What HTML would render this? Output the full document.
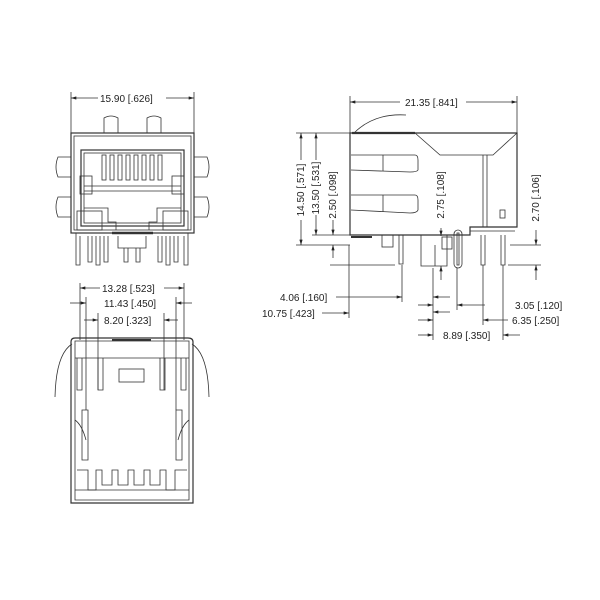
<!DOCTYPE html><html><head><style>body{margin:0;background:#fff}svg{display:block}text{font-family:"Liberation Sans",sans-serif;font-size:10px;fill:#222}</style></head><body>
<svg width="600" height="600" viewBox="0 0 600 600" xmlns="http://www.w3.org/2000/svg">
<defs><marker id="a" viewBox="0 0 10 6" refX="10" refY="3" markerWidth="8" markerHeight="4" orient="auto-start-reverse"><path d="M0,0L10,3L0,6z" fill="#222"/></marker></defs>
<g stroke="#333" stroke-width="0.8" fill="none">
<line x1="71" y1="92" x2="71" y2="133"/><line x1="194" y1="92" x2="194" y2="133"/>
<line x1="71" y1="98" x2="98" y2="98" marker-start="url(#a)"/><line x1="166" y1="98" x2="194" y2="98" marker-end="url(#a)"/>
<rect x="71" y="133" width="123" height="100" stroke-width="1.2"/>
<rect x="74" y="136" width="117" height="94"/>
<path d="M104,133V118q7,-4 14,0V133M147,133V118q7,-4 14,0V133"/>
<path d="M71,157H58q-4,10 0,20H71M71,197H58q-4,10 0,20H71M194,157H207q4,10 0,20H194M194,197H207q4,10 0,20H194"/>
<rect x="81" y="150" width="103" height="76" stroke-width="1.2"/>
<rect x="84" y="153" width="97" height="70"/>
<g><rect x="102" y="155" width="4" height="25"/><rect x="110" y="155" width="4" height="25"/><rect x="118" y="155" width="4" height="25"/><rect x="126" y="155" width="4" height="25"/><rect x="134" y="155" width="4" height="25"/><rect x="142" y="155" width="4" height="25"/><rect x="150" y="155" width="4" height="25"/><rect x="158" y="155" width="4" height="25"/></g>
<line x1="84" y1="186" x2="181" y2="186"/><line x1="84" y1="191" x2="181" y2="191"/>
<rect x="80" y="176" width="12" height="18"/><rect x="172" y="176" width="12" height="18"/>
<path d="M84,208H108V222H116V230M181,208H157V222H149V230"/>
<rect x="77" y="211" width="25" height="19"/><rect x="163" y="211" width="25" height="19"/>
<line x1="112" y1="233" x2="153" y2="233" stroke-width="2.5"/>
<path d="M76,233V265H80V236M88,236V262H92V236M96,236V265H100V236M104,236V262H108V236M118,236V248H146V236M124,248V262H128V248M136,248V262H140V248M158,236V262H162V236M166,236V265H170V236M174,236V262H178V236M184,236V265H188V233"/>
<line x1="350" y1="96" x2="350" y2="133"/><line x1="517" y1="96" x2="517" y2="133"/>
<line x1="350" y1="102" x2="400" y2="102" marker-start="url(#a)"/><line x1="466" y1="102" x2="517" y2="102" marker-end="url(#a)"/>
<path d="M354,133q20,-20 52,-18"/>
<path d="M350,133H517V227H470V235H350Z" stroke-width="1.2"/>
<line x1="352" y1="133" x2="415" y2="133" stroke-width="2.2"/>
<path d="M415,133L440,155H493L517,133"/>
<line x1="483" y1="155" x2="483" y2="227"/><line x1="487" y1="155" x2="487" y2="227"/>
<line x1="470" y1="227" x2="515" y2="227"/><line x1="470" y1="231" x2="515" y2="231"/>
<rect x="500" y="210" width="5" height="8"/>
<path d="M351,155H415Q418,155 418,160V170Q417,172 410,172L351,170M351,195H415Q418,195 418,200V210Q417,213 410,213L351,210"/>
<line x1="383" y1="155" x2="383" y2="171"/><line x1="383" y1="195" x2="383" y2="212"/>
<line x1="351" y1="237" x2="372" y2="237" stroke-width="2"/>
<rect x="382" y="235" width="11" height="12"/>
<path d="M399,235V264H403V235M421,235V266H447V235M435,245V266M481,235V265H485V235M501,235V265H505V235"/>
<rect x="454" y="230" width="8" height="38" rx="4"/><rect x="457" y="233" width="2" height="32"/>
<rect x="442" y="237" width="10" height="12"/>
<line x1="296" y1="133" x2="350" y2="133"/><line x1="296" y1="245" x2="350" y2="245"/><line x1="312" y1="235" x2="350" y2="235"/>
<line x1="301" y1="133" x2="301" y2="160" marker-start="url(#a)"/><line x1="301" y1="220" x2="301" y2="245" marker-end="url(#a)"/>
<line x1="316" y1="133" x2="316" y2="160" marker-start="url(#a)"/><line x1="316" y1="215" x2="316" y2="235" marker-end="url(#a)"/>
<line x1="333" y1="220" x2="333" y2="235" marker-end="url(#a)"/><line x1="333" y1="258" x2="333" y2="245" marker-end="url(#a)"/>
<line x1="330" y1="265" x2="395" y2="265"/>
<line x1="441" y1="228" x2="441" y2="236" marker-end="url(#a)"/><line x1="441" y1="280" x2="441" y2="266" marker-end="url(#a)"/>
<line x1="510" y1="245" x2="541" y2="245"/><line x1="508" y1="265" x2="541" y2="265"/>
<line x1="536" y1="230" x2="536" y2="245" marker-end="url(#a)"/><line x1="536" y1="280" x2="536" y2="265" marker-end="url(#a)"/>
<line x1="349" y1="245" x2="349" y2="318"/><line x1="402" y1="265" x2="402" y2="302"/>
<line x1="433" y1="268" x2="433" y2="340"/><line x1="457" y1="268" x2="457" y2="310"/>
<line x1="483" y1="265" x2="483" y2="325"/><line x1="503" y1="265" x2="503" y2="340"/>
<line x1="336" y1="297" x2="402" y2="297" marker-end="url(#a)"/>
<line x1="322" y1="313" x2="349" y2="313" marker-end="url(#a)"/>
<line x1="418" y1="305" x2="433" y2="305" marker-end="url(#a)"/><line x1="450" y1="297" x2="433" y2="297" marker-end="url(#a)"/>
<line x1="485" y1="305" x2="457" y2="305" marker-end="url(#a)"/>
<line x1="418" y1="320" x2="433" y2="320" marker-end="url(#a)"/><line x1="450" y1="312" x2="433" y2="312" marker-end="url(#a)"/>
<line x1="508" y1="320" x2="483" y2="320" marker-end="url(#a)"/>
<line x1="418" y1="335" x2="433" y2="335" marker-end="url(#a)"/><line x1="520" y1="335" x2="503" y2="335" marker-end="url(#a)"/>
<line x1="80" y1="283" x2="80" y2="340"/><line x1="184" y1="283" x2="184" y2="340"/>
<line x1="86" y1="297" x2="86" y2="410"/><line x1="176" y1="297" x2="176" y2="410"/>
<line x1="98" y1="313" x2="98" y2="390"/><line x1="164" y1="313" x2="164" y2="390"/>
<line x1="80" y1="288" x2="100" y2="288" marker-start="url(#a)"/><line x1="164" y1="288" x2="184" y2="288" marker-end="url(#a)"/>
<line x1="70" y1="303" x2="86" y2="303" marker-end="url(#a)"/><line x1="192" y1="303" x2="176" y2="303" marker-end="url(#a)"/>
<line x1="84" y1="320" x2="98" y2="320" marker-end="url(#a)"/><line x1="178" y1="320" x2="164" y2="320" marker-end="url(#a)"/>
<path d="M71,342Q71,338 75,338H188Q193,338 193,342V503H71Z" stroke-width="1.2"/>
<path d="M75,341H189V500H75Z"/>
<line x1="112" y1="340" x2="151" y2="340" stroke-width="2"/>
<line x1="75" y1="358" x2="189" y2="358"/>
<path d="M72,344Q56,354 55,397M192,344Q208,354 209,397"/>
<rect x="119" y="369" width="25" height="13"/>
<path d="M77,358V390H82V358M98,358V390H103V358M160,358V390H165V358M181,358V390H186V358"/>
<path d="M82,410H88V460H82ZM176,410H182V460H176Z"/>
<path d="M75,420Q82,425 86,440M189,420Q182,425 178,440"/>
<path d="M77,470H88V490H96V470H102V485H112V470H118V485H128V470H134V485H144V470H150V485H160V470H166V490H175V470H187"/>
<line x1="75" y1="490" x2="189" y2="490"/>
</g>
<text x="100" y="102">15.90 [.626]</text>
<text x="405" y="106">21.35 [.841]</text>
<text x="102" y="292">13.28 [.523]</text>
<text x="104" y="307">11.43 [.450]</text>
<text x="104" y="324">8.20 [.323]</text>
<text x="280" y="301">4.06 [.160]</text>
<text x="262" y="317">10.75 [.423]</text>
<text x="515" y="309">3.05 [.120]</text>
<text x="512" y="324">6.35 [.250]</text>
<text x="443" y="339">8.89 [.350]</text>
<text transform="translate(304,190) rotate(-90)" text-anchor="middle">14.50 [.571]</text>
<text transform="translate(319,188) rotate(-90)" text-anchor="middle">13.50 [.531]</text>
<text transform="translate(336,195) rotate(-90)" text-anchor="middle">2.50 [.098]</text>
<text transform="translate(444,195) rotate(-90)" text-anchor="middle">2.75 [.108]</text>
<text transform="translate(539,198) rotate(-90)" text-anchor="middle">2.70 [.106]</text>
</svg></body></html>
